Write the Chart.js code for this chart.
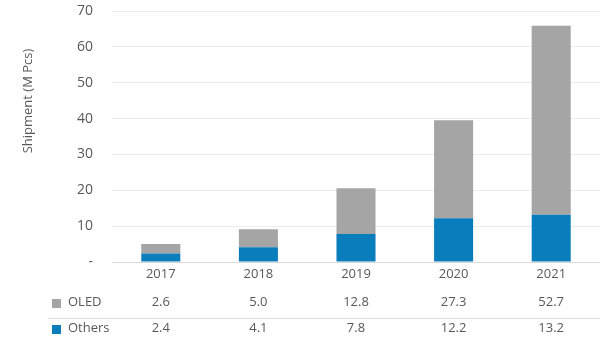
<!DOCTYPE html>
<html>
<head>
<meta charset="utf-8">
<script src="https://cdn.jsdelivr.net/npm/chart.js@4/dist/chart.umd.min.js"></script>
<style>
html,body{margin:0;padding:0;background:#fff;}
#wrap{width:600px;height:351px;position:relative;}
</style>
</head>
<body>
<div id="wrap"><canvas id="c" width="600" height="351"></canvas></div>
<script>
const categories = ['2017', '2018', '2019', '2020', '2021'];
const oledValues = [2.6, 5.0, 12.8, 27.3, 52.7];
const othersValues = [2.4, 4.1, 7.8, 12.2, 13.2];
const oledLabels = ['2.6', '5.0', '12.8', '27.3', '52.7'];
const othersLabels = ['2.4', '4.1', '7.8', '12.2', '13.2'];
const yTicks = [0, 10, 20, 30, 40, 50, 60, 70];
const axisTitle = 'Shipment (M Pcs)';

const GRAY = '#a5a5a5';
const BLUE = '#0a7dbd';
const TXT = '#595959';
const FONT = '"Open Sans", "Noto Sans", sans-serif';

const tablePlugin = {
  id: 'tablePlugin',
  afterDraw(chart) {
    const ctx = chart.ctx;
    const x = chart.scales.x;
    ctx.save();
    // axis title
    ctx.fillStyle = TXT;
    ctx.font = '13px ' + FONT;
    ctx.textAlign = 'center';
    ctx.textBaseline = 'middle';
    ctx.save();
    ctx.translate(28, 101);
    ctx.rotate(-Math.PI / 2);
    ctx.fillText(axisTitle, 0, 0);
    ctx.restore();
    // separator
    ctx.strokeStyle = '#dcdcdc';
    ctx.lineWidth = 1;
    ctx.beginPath();
    ctx.moveTo(48, 318.5);
    ctx.lineTo(600, 318.5);
    ctx.stroke();
    // legend boxes
    ctx.fillStyle = GRAY;
    ctx.fillRect(52, 299, 9, 9);
    ctx.fillStyle = BLUE;
    ctx.fillRect(52, 325, 9, 9);
    ctx.fillStyle = TXT;
    ctx.font = '13px ' + FONT;
    ctx.textAlign = 'left';
    ctx.fillText(chart.data.datasets[1].label, 68, 302);
    ctx.fillText(chart.data.datasets[0].label, 68, 328);
    ctx.textAlign = 'center';
    categories.forEach((c, i) => {
      const px = x.getPixelForValue(i);
      ctx.fillText(oledLabels[i], px, 302);
      ctx.fillText(othersLabels[i], px, 328);
    });
    ctx.restore();
  }
};

new Chart(document.getElementById('c'), {
  type: 'bar',
  data: {
    labels: categories,
    datasets: [
      { label: 'Others', data: othersValues, backgroundColor: BLUE, barPercentage: 0.4, categoryPercentage: 1.0 },
      { label: 'OLED', data: oledValues, backgroundColor: GRAY, barPercentage: 0.4, categoryPercentage: 1.0 }
    ]
  },
  options: {
    responsive: false,
    animation: false,
    layout: { padding: { top: 11, right: 0, left: 0, bottom: 0 } },
    plugins: { legend: { display: false }, tooltip: { enabled: false } },
    scales: {
      x: {
        stacked: true,
        grid: { display: false, drawTicks: false },
        border: { display: true, color: '#d9d9d9' },
        ticks: { color: TXT, font: { family: FONT, size: 13 }, padding: 4 },
        afterFit(s) { s.height = 89; s.paddingLeft = 0; s.paddingRight = 0; }
      },
      y: {
        stacked: true,
        min: 0, max: 70,
        afterBuildTicks(s) { s.ticks = yTicks.map(v => ({ value: v })); },
        grid: { color: '#ececec', drawTicks: false },
        border: { display: false },
        ticks: {
          color: TXT, font: { family: FONT, size: 14 }, padding: 19,
          callback: v => v === 0 ? '-' : String(v)
        },
        afterFit(s) { s.width = 112; s.paddingTop = 0; s.paddingBottom = 0; }
      }
    }
  },
  plugins: [tablePlugin]
});
</script>
</body>
</html>
